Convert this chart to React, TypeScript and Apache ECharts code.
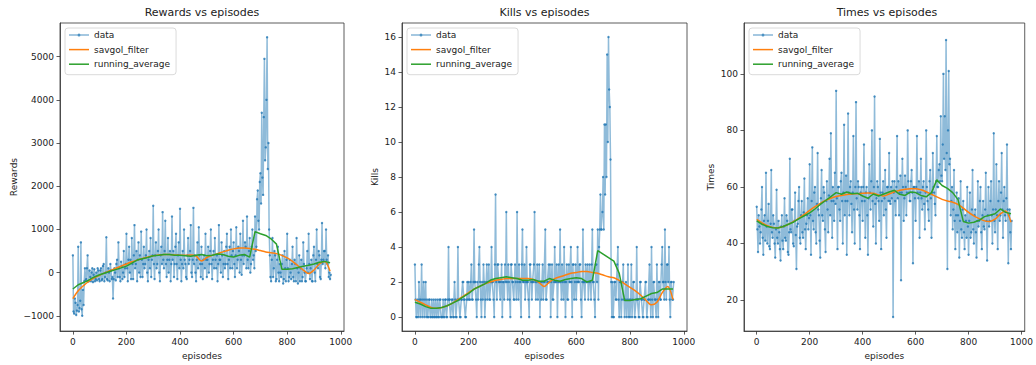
import React, { useEffect, useRef } from "react";
import * as echarts from "echarts";

const FONT = "'DejaVu Sans', 'Noto Sans', sans-serif";
const TEXT = "#222";

const TITLES = ["Rewards vs episodes", "Kills vs episodes", "Times vs episodes"];
const Y_NAMES = ["Rewards", "Kills", "Times"];
const SERIES_NAMES = ["data", "savgol_filter", "running_average"];
const X_TICKS = [0, 200, 400, 600, 800, 1000];
const REWARD_TICKS = [-1000, 0, 1000, 2000, 3000, 4000, 5000];
const KILL_TICKS = [0, 2, 4, 6, 8, 10, 12, 14, 16];
const TIME_TICKS = [20, 40, 60, 80, 100];

const DATA_STEP = 2.5; // episodes between stored raw values
const SMOOTH_STEP = 20; // episodes between stored smoothed values

const rewards = [
  400, -900, -950, -600, -700, -980, -880, -750, 600, -900, -820, -650, 700, -850, -1000, -400, -750, -200, 100, -180,
  -150, 100, 400, -200, -200, 50, -100, -200, 0, 100, -220, -50, 80, -200, -150, 0, -180, 100, 50, -150,
  -200, 50, 100, -180, -150, 150, 200, -200, -100, 0, 820, -150, -180, 100, 0, -200, 200, 50, -150, -100,
  -600, -150, 100, 0, -180, 200, 300, -100, 700, 100, -100, -200, 250, 150, -150, 0, 500, -100, 100, 200,
  900, 100, -200, 300, 600, 0, 300, -150, 800, 200, -150, 400, 1100, 100, 200, 500, -200, 300, 700, 0,
  400, -100, 950, 300, -100, 200, 600, 100, 200, 400, 1000, 0, -200, 300, 500, 100, 800, -100, 300, 400,
  1550, 200, -150, 400, 700, 100, 200, 500, 1000, 0, -200, 400, 600, 200, 1400, 300, 100, 500, 1200, 200,
  -100, 300, 800, 0, 300, 500, -200, 200, 1300, 300, 500, -100, 200, 600, 900, 200, -150, 400, 700, 100,
  1480, 300, -200, 200, 500, 100, 1000, 300, 200, -100, -150, 400, 800, 200, 300, 500, 1100, 0, -100, 300,
  1500, 200, 400, 0, -200, 300, 700, 100, 1050, 400, 200, -100, 600, 200, -150, 300, 400, 100, 900, 300,
  -100, 300, 600, 0, 200, 500, 1000, 200, -150, 300, 500, 100, 800, 300, 100, 400, -200, 200, 1100, 300,
  300, 0, 700, 400, -100, 200, 500, 100, 200, 600, 900, 200, -150, 300, 600, 100, 1000, 400, 100, 500,
  700, 200, -100, 400, 1050, 100, 300, 600, 500, 0, 900, 300, -50, 400, 1200, 200, 400, 700, 600, 100,
  1300, 300, 100, 500, 800, 0, 200, 600, 1000, 300, 400, 100, 1300, 500, 600, 1700, 1900, 1200, 1000, 2100,
  2300, 1600, 3700, 2200, 1800, 3600, 4950, 2600, 2900, 4000, 5450, 2400, 3000, 1000, 400, -100, -200, 300, 800, -100,
  100, 500, 400, -200, -150, 300, 600, 0, -200, 200, 0, -100, 200, 400, -250, -150, 500, 100, -200, 300,
  900, 100, -200, -100, 300, 0, -150, 200, 600, -100, -200, 300, 200, -200, 800, 100, -250, 0, 400, -200,
  100, 300, -200, -100, 700, 200, 0, -200, -200, 100, 500, 0, 900, 200, -150, 100, 300, -200, -200, 400,
  600, 0, -200, 300, 1000, 200, 100, 500, 400, -100, -150, 300, 1150, 200, 300, 500, 500, 100, 1000, 300,
  200, 400, -100, 0, -150, -50,
];
const rewardsSavgol = [
  -600, -420, -300, -200, -120, -60, 0, 50, 100, 150, 200, 250, 290, 330, 360, 390, 410, 420, 420, 410,
  400, 400, 410, 380, 270, 350, 400, 440, 480, 520, 550, 570, 570, 560, 540, 510, 480, 460, 440, 400,
  340, 260, 160, 60, -20, 60, 200, 260, 30,
];
const rewardsRunning = [
  -380, -280, -230, -170, -100, -50, -10, 30, 70, 110, 150, 220, 290, 320, 350, 390, 400, 420, 420, 400,
  400, 390, 380, 400, 420, 390, 400, 430, 420, 380, 360, 400, 420, 360, 950, 900, 860, 780, 660, 80,
  80, 90, 120, 150, 170, 200, 240, 260, 230,
];

const kills = [
  3, 1, 0, 0, 1, 0, 2, 1, 0, 1, 3, 0, 1, 2, 0, 1, 2, 0, 1, 0,
  0, 1, 1, 0, 0, 1, 0, 0, 1, 0, 0, 1, 0, 0, 1, 0, 0, 1, 1, 0,
  0, 0, 1, 0, 0, 1, 1, 0, 0, 1, 4, 1, 1, 0, 0, 1, 1, 0, 0, 2,
  1, 0, 0, 1, 4, 1, 1, 0, 0, 1, 1, 2, 2, 1, 1, 0, 0, 1, 2, 1,
  2, 1, 1, 2, 3, 1, 1, 2, 5, 2, 2, 1, 0, 2, 1, 3, 4, 2, 1, 0,
  2, 1, 3, 2, 0, 1, 2, 3, 1, 2, 3, 1, 1, 2, 4, 2, 2, 1, 0, 3,
  7, 2, 1, 3, 3, 2, 2, 1, 2, 3, 0, 2, 2, 1, 3, 2, 6, 2, 1, 3,
  2, 1, 0, 3, 3, 2, 2, 1, 1, 3, 2, 1, 6, 2, 1, 3, 2, 2, 0, 3,
  5, 2, 2, 3, 1, 2, 4, 2, 2, 1, 0, 3, 3, 2, 1, 2, 2, 3, 6, 2,
  1, 2, 3, 1, 2, 3, 0, 2, 1, 2, 3, 1, 2, 2, 5, 1, 1, 2, 2, 3,
  2, 3, 0, 2, 3, 1, 1, 2, 4, 2, 2, 3, 0, 2, 3, 2, 5, 2, 1, 3,
  2, 1, 4, 2, 0, 2, 3, 1, 1, 3, 2, 2, 4, 2, 0, 3, 3, 1, 2, 3,
  1, 2, 4, 2, 2, 3, 3, 1, 0, 2, 5, 2, 2, 1, 3, 2, 2, 3, 1, 2,
  3, 2, 1, 3, 5, 2, 2, 1, 0, 3, 3, 2, 5, 1, 4, 5, 7, 5, 5, 6,
  8, 5, 11, 7, 11, 8, 15, 10, 16, 13, 12, 9, 2, 0, 2, 0, 0, 2, 2, 1,
  1, 3, 4, 1, 0, 2, 2, 0, 1, 2, 3, 1, 0, 1, 2, 0, 1, 3, 0, 1,
  0, 1, 3, 0, 1, 2, 2, 0, 0, 1, 4, 1, 1, 0, 0, 2, 2, 1, 1, 0,
  0, 1, 1, 2, 2, 0, 0, 1, 1, 3, 1, 0, 4, 1, 0, 2, 2, 1, 1, 0,
  3, 1, 0, 2, 2, 1, 1, 3, 4, 2, 2, 1, 5, 2, 1, 3, 3, 2, 4, 1,
  0, 2, 2, 1, 1, 2,
];
const killsSavgol = [
  1.0, 0.85, 0.7, 0.55, 0.5, 0.55, 0.65, 0.8, 1.0, 1.2, 1.4, 1.6, 1.75, 1.9, 2.0, 2.1, 2.15, 2.2, 2.2, 2.2,
  2.2, 2.2, 2.15, 2.0, 1.75, 2.0, 2.2, 2.3, 2.4, 2.5, 2.55, 2.6, 2.6, 2.55, 2.5, 2.4, 2.3, 2.25, 2.1, 1.9,
  1.7, 1.5, 1.25, 0.95, 0.7, 0.85, 1.4, 1.75, 1.0,
];
const killsRunning = [
  0.85, 0.75, 0.6, 0.5, 0.5, 0.55, 0.65, 0.8, 0.95, 1.15, 1.35, 1.6, 1.75, 1.9, 2.1, 2.2, 2.25, 2.3, 2.25, 2.2,
  2.1, 2.1, 2.15, 2.05, 2.05, 2.2, 2.1, 2.05, 2.15, 2.2, 2.25, 2.2, 2.0, 2.1, 3.8, 3.6, 3.4, 3.2, 2.5, 0.95,
  0.95, 1.0, 1.05, 1.2, 1.35, 1.4, 1.6, 1.6, 1.6,
];

const times = [
  53, 45, 37, 50, 46, 40, 44, 52, 60, 42, 36, 48, 50, 41, 65, 46, 40, 48, 54, 39,
  38, 47, 66, 44, 42, 50, 47, 40, 35, 45, 59, 42, 40, 48, 44, 38, 34, 46, 50, 41,
  38, 46, 56, 42, 41, 50, 48, 37, 36, 44, 70, 45, 44, 52, 52, 40, 39, 48, 58, 43,
  31, 46, 47, 55, 60, 42, 40, 50, 55, 44, 42, 51, 63, 45, 38, 47, 50, 56, 45, 49,
  68, 50, 36, 55, 74, 48, 45, 58, 60, 44, 40, 54, 72, 52, 50, 41, 35, 56, 66, 50,
  48, 60, 58, 45, 37, 55, 62, 52, 44, 57, 70, 50, 79, 55, 42, 60, 55, 48, 65, 54,
  94, 56, 38, 60, 60, 52, 48, 62, 65, 55, 40, 58, 82, 50, 55, 64, 36, 55, 86, 58,
  50, 60, 62, 54, 44, 58, 78, 52, 40, 60, 90, 56, 52, 62, 60, 50, 38, 58, 60, 55,
  48, 60, 75, 55, 42, 58, 60, 50, 36, 56, 68, 58, 52, 62, 80, 55, 46, 60, 92, 54,
  40, 56, 62, 60, 55, 48, 77, 58, 38, 55, 58, 62, 50, 56, 66, 52, 42, 60, 60, 55,
  72, 55, 54, 60, 56, 62, 14, 58, 62, 55, 50, 60, 78, 56, 62, 50, 58, 64, 27, 58,
  70, 60, 48, 56, 64, 60, 50, 58, 80, 62, 58, 55, 55, 62, 66, 58, 33, 60, 60, 56,
  48, 60, 78, 58, 56, 62, 42, 58, 70, 56, 52, 60, 62, 54, 45, 58, 80, 60, 55, 52,
  48, 62, 66, 56, 42, 58, 72, 60, 58, 54, 50, 62, 78, 60, 60, 66, 68, 62, 85, 64,
  62, 75, 100, 70, 85, 66, 112, 72, 31, 80, 101, 68, 70, 50, 55, 60, 45, 52, 66, 48,
  38, 50, 58, 44, 50, 56, 35, 48, 62, 45, 42, 52, 55, 44, 38, 50, 48, 42, 60, 46,
  36, 48, 58, 42, 44, 52, 66, 45, 40, 50, 52, 44, 35, 48, 62, 46, 48, 55, 60, 44,
  38, 50, 55, 46, 45, 52, 65, 48, 34, 50, 60, 46, 48, 55, 62, 50, 40, 52, 79, 48,
  44, 52, 68, 50, 38, 55, 62, 48, 50, 58, 72, 52, 42, 55, 60, 50, 48, 56, 75, 52,
  33, 50, 52, 44, 38, 48,
];
const timesSavgol = [
  48.5, 47.3, 46.3, 45.7, 45.6, 46.0, 46.8, 47.8, 49.0, 50.3, 51.7, 53.0, 54.2, 55.2, 56.0, 56.6, 57.0, 57.3, 57.5, 57.6,
  57.8, 57.9, 57.8, 57.2, 56.8, 57.5, 58.3, 58.8, 59.2, 59.4, 59.4, 59.0, 58.3, 57.4, 56.5, 55.6, 55.0, 54.6, 53.8, 52.5,
  51.0, 49.8, 48.8, 48.0, 47.8, 48.6, 50.5, 51.5, 47.5,
];
const timesRunning = [
  48.0, 46.8, 46.0, 45.6, 45.5, 46.0, 46.8, 47.6, 48.8, 49.8, 50.8, 52.2, 53.8, 55.2, 56.6, 58.0, 57.4, 58.2, 57.6, 57.8,
  56.8, 56.0, 57.5, 56.8, 57.5, 58.2, 58.8, 57.4, 57.0, 58.2, 58.0, 57.0, 56.5, 58.0, 62.5, 60.5, 59.5, 58.0, 55.5, 47.8,
  47.2, 47.5, 48.2, 49.5, 50.0, 50.5, 52.2, 51.0, 50.5,
];

const withEpisodes = (values: number[], step: number) => values.map((v, i) => [i * step, v]);
const fmt = (v: number) => (v < 0 ? "\u2212" + Math.abs(v) : String(v));

const LINE_ICON = "path://M0,0H40V3H0Z";
const DATA_ICON = "path://M0,5H40V7H0Z M17,6A3,3 0 1 1 23,6A3,3 0 1 1 17,6Z";

const PANELS = [
  { left: 60, width: 284, yMin: -1354, yMax: 5780, ticks: REWARD_TICKS, nameGap: 42, raw: rewards, sav: rewardsSavgol, run: rewardsRunning },
  { left: 402, width: 285, yMin: -0.8, yMax: 16.8, ticks: KILL_TICKS, nameGap: 23, raw: kills, sav: killsSavgol, run: killsRunning },
  { left: 744, width: 286, yMin: 9, yMax: 118, ticks: TIME_TICKS, nameGap: 29, raw: times, sav: timesSavgol, run: timesRunning },
];
const GRID_TOP = 23;
const GRID_HEIGHT = 313;

function buildOption() {
  const grid: any[] = [];
  const xAxis: any[] = [];
  const yAxis: any[] = [];
  const series: any[] = [];
  const title: any[] = [];
  const legend: any[] = [];

  PANELS.forEach((p, i) => {
    grid.push({
      left: p.left, top: GRID_TOP, width: p.width, height: GRID_HEIGHT,
      show: true, borderColor: "#333", borderWidth: 0.8, backgroundColor: "transparent",
      containLabel: false,
    });
    xAxis.push({
      type: "value", gridIndex: i, min: -48, max: 1012,
      name: "episodes", nameLocation: "middle", nameGap: 19,
      nameTextStyle: { fontFamily: FONT, fontSize: 9, color: TEXT },
      axisLine: { show: true, onZero: false, lineStyle: { color: "#333", width: 0.8 } },
      axisTick: { show: true, length: 3.5, lineStyle: { color: "#333", width: 0.8 }, customValues: X_TICKS },
      axisLabel: { fontFamily: FONT, fontSize: 9, color: TEXT, margin: 6, customValues: X_TICKS, formatter: fmt },
      splitLine: { show: false },
    });
    yAxis.push({
      type: "value", gridIndex: i, min: p.yMin, max: p.yMax,
      name: Y_NAMES[i], nameLocation: "middle", nameGap: p.nameGap, nameRotate: 90,
      nameTextStyle: { fontFamily: FONT, fontSize: 9, color: TEXT },
      axisLine: { show: true, onZero: false, lineStyle: { color: "#333", width: 0.8 } },
      axisTick: { show: true, length: 3.5, lineStyle: { color: "#333", width: 0.8 }, customValues: p.ticks },
      axisLabel: { fontFamily: FONT, fontSize: 9, color: TEXT, margin: 6, customValues: p.ticks, formatter: fmt },
      splitLine: { show: false },
    });
    title.push({
      text: TITLES[i], left: p.left + p.width / 2, top: 7, textAlign: "center", padding: 0,
      textStyle: { fontFamily: FONT, fontSize: 11, fontWeight: "normal", color: TEXT },
    });
    legend.push({
      data: [
        { name: SERIES_NAMES[0], icon: DATA_ICON },
        { name: SERIES_NAMES[1], icon: LINE_ICON },
        { name: SERIES_NAMES[2], icon: LINE_ICON },
      ],
      orient: "vertical", left: p.left + 5, top: 28,
      itemWidth: 20, itemHeight: 6, itemGap: 3.6, symbolKeepAspect: true,
      padding: [1.5, 6, 5, 4],
      borderColor: "#d0d0d0", borderWidth: 0.8, borderRadius: 3,
      backgroundColor: "rgba(255,255,255,0.8)",
      textStyle: { fontFamily: FONT, fontSize: 9, color: TEXT, lineHeight: 11 },
      selectedMode: false, z: 10,
    });
    series.push({
      name: SERIES_NAMES[0], type: "line", xAxisIndex: i, yAxisIndex: i,
      data: withEpisodes(p.raw, DATA_STEP),
      symbol: "circle", symbolSize: 2.4, showAllSymbol: true,
      lineStyle: { color: "#1f77b4", width: 1.5, opacity: 0.5 },
      itemStyle: { color: "#1f77b4", opacity: 0.8, borderWidth: 0 },
      emphasis: { disabled: true }, z: 2,
    });
    series.push({
      name: SERIES_NAMES[1], type: "line", xAxisIndex: i, yAxisIndex: i,
      data: withEpisodes(p.sav, SMOOTH_STEP), symbol: "none", smooth: 0.3,
      lineStyle: { color: "#ff7f0e", width: 1.5 },
      itemStyle: { color: "#ff7f0e" },
      emphasis: { disabled: true }, z: 3,
    });
    series.push({
      name: SERIES_NAMES[2], type: "line", xAxisIndex: i, yAxisIndex: i,
      data: withEpisodes(p.run, SMOOTH_STEP), symbol: "none",
      lineStyle: { color: "#2ca02c", width: 1.5 },
      itemStyle: { color: "#2ca02c" },
      emphasis: { disabled: true }, z: 4,
    });
  });

  return {
    animation: false,
    backgroundColor: "#ffffff",
    textStyle: { fontFamily: FONT },
    title, legend, grid, xAxis, yAxis, series,
  };
}

export default function App() {
  const ref = useRef<HTMLDivElement>(null);
  useEffect(() => {
    if (!ref.current) return;
    const chart = echarts.init(ref.current, null, { renderer: "svg" });
    chart.setOption(buildOption() as any);
    return () => chart.dispose();
  }, []);
  return (
    <div
      ref={ref}
      style={{ position: "absolute", left: 0, top: 0, width: 1036, height: 365, background: "#fff" }}
    />
  );
}
